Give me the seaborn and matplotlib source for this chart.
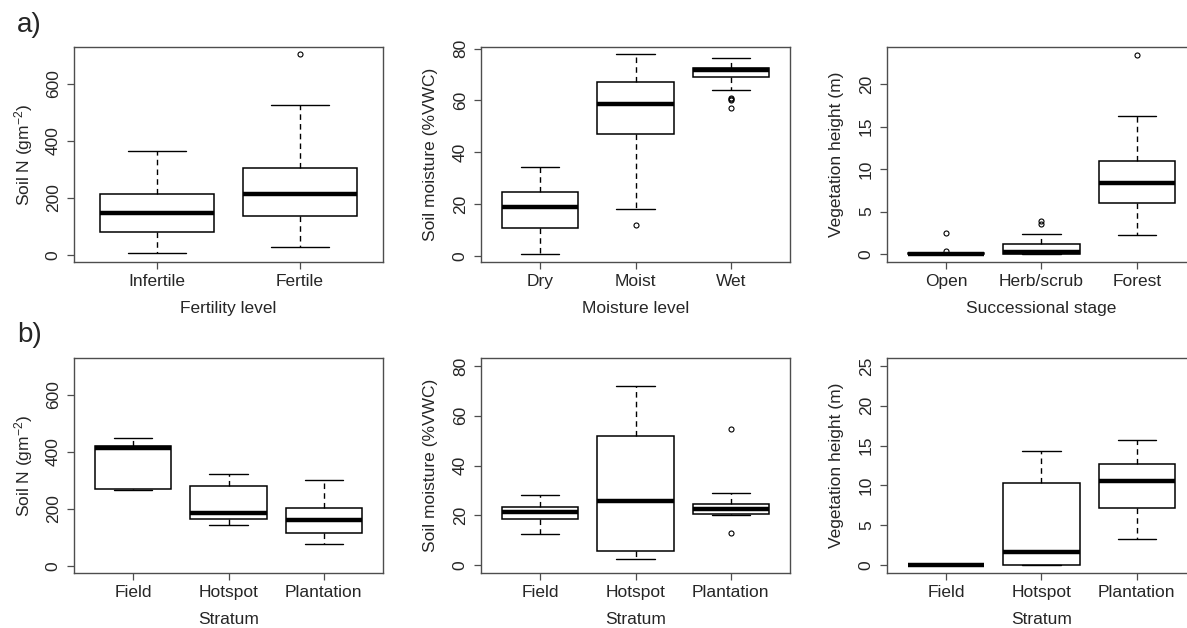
import numpy as np
import pandas as pd
import matplotlib
matplotlib.use("Agg")
import matplotlib.pyplot as plt
import seaborn as sns

# box statistics: [lower whisker, Q1, median, Q3, upper whisker]
fert_levels = ["Infertile", "Fertile"]
soilN_a_stats = [[6, 80, 146, 214, 366], [27, 137, 213, 304, 526]]
soilN_a_out = [[], [705]]

moist_levels = ["Dry", "Moist", "Wet"]
moist_a_stats = [[1.0, 10.9, 18.9, 24.6, 34.5], [18.3, 47.1, 58.6, 67.1, 77.8],
                 [63.9, 68.9, 71.6, 72.4, 76.3]]
moist_a_out = [[], [12.0], [61.0, 60.6, 60.2, 57.2]]

succ_stages = ["Open", "Herb/scrub", "Forest"]
veg_a_stats = [[0, 0, 0, 0.08, 0.1], [0, 0.05, 0.2, 1.22, 2.36], [2.24, 6.0, 8.35, 11.0, 16.3]]
veg_a_out = [[0.4, 2.44], [3.54, 3.94], [23.5]]

strata = ["Field", "Hotspot", "Plantation"]
soilN_b_stats = [[265, 270, 414, 420, 448], [143, 163, 187, 281, 323], [76, 115, 161, 204, 302]]
soilN_b_out = [[], [], []]
moist_b_stats = [[12.4, 18.6, 21.2, 23.4, 28.1], [2.3, 5.8, 25.7, 51.8, 72.1],
                 [20.0, 20.4, 22.6, 24.7, 29.0]]
moist_b_out = [[], [], [54.7, 13.0]]
veg_b_stats = [[0, 0, 0, 0, 0], [0, 0, 1.6, 10.34, 14.37], [3.24, 7.18, 10.55, 12.73, 15.67]]
veg_b_out = [[], [], []]


def expand(stats, outliers):
    # sample set whose quartiles / whiskers reproduce the summary above
    lo, q1, med, q3, hi = stats
    return list(outliers) + [lo] + [q1] * 20 + [med] * 9 + [q3] * 20 + [hi]


def to_frame(cats, stats, outs):
    rows = []
    for c, s, o in zip(cats, stats, outs):
        for v in expand(s, o):
            rows.append((c, v))
    return pd.DataFrame(rows, columns=["group", "value"])


sns.set_theme(style="white")
plt.rcParams["font.family"] = ["Liberation Sans", "DejaVu Sans"]
plt.rcParams["mathtext.fontset"] = "custom"
plt.rcParams["mathtext.rm"] = "Liberation Sans"
plt.rcParams["mathtext.it"] = "Liberation Sans:italic"

txt = "#262626"
frame = "#4d4d4d"
fs = 12.5

W, H = 1187, 628
fig = plt.figure(figsize=(W / 100, H / 100), dpi=100)

lefts = [74, 481, 887]
tops = [47, 358]
aw, ah = 309, 215

panels = [
    (fert_levels, soilN_a_stats, soilN_a_out, r"Soil N (gm$^{-2}$)", "Fertility level", (-25, 730), [0, 200, 400, 600]),
    (moist_levels, moist_a_stats, moist_a_out, "Soil moisture (%VWC)", "Moisture level", (-2.2, 80.6), [0, 20, 40, 60, 80]),
    (succ_stages, veg_a_stats, veg_a_out, "Vegetation height (m)", "Successional stage", (-0.95, 24.4), [0, 5, 10, 15, 20]),
    (strata, soilN_b_stats, soilN_b_out, r"Soil N (gm$^{-2}$)", "Stratum", (-25, 730), [0, 200, 400, 600]),
    (strata, moist_b_stats, moist_b_out, "Soil moisture (%VWC)", "Stratum", (-3.2, 83.2), [0, 20, 40, 60, 80]),
    (strata, veg_b_stats, veg_b_out, "Vegetation height (m)", "Stratum", (-1, 26), [0, 5, 10, 15, 20, 25]),
]

for i, (cats, stats, outs, ylab, xlab, ylim, yticks) in enumerate(panels):
    r, c = divmod(i, 3)
    ax = fig.add_axes([lefts[c] / W, 1 - (tops[r] + ah) / H, aw / W, ah / H])
    df = to_frame(cats, stats, outs)
    sns.boxplot(data=df, x="group", y="value", order=cats, ax=ax,
                color="white", linecolor="black", linewidth=1.1, width=0.8,
                whiskerprops=dict(linestyle=(0, (4, 3)), linewidth=1.0),
                capprops=dict(linewidth=1.0),
                medianprops=dict(linewidth=3.2, color="black"),
                flierprops=dict(marker="o", markersize=3.6, markerfacecolor="none",
                                markeredgecolor="black", markeredgewidth=0.8))
    n = len(cats)
    pad = 0.04 * n
    ax.set_xlim(-0.5 - pad, n - 0.5 + pad)
    ax.set_ylim(*ylim)
    ax.set_yticks(yticks)
    ax.set_yticklabels([str(t) for t in yticks], rotation=90, va="center", ha="right")
    ax.tick_params(axis="both", direction="out", length=5, width=0.9, colors=frame,
                   labelcolor=txt, labelsize=fs, left=True, bottom=True)
    ax.tick_params(axis="y", pad=4.5)
    ax.tick_params(axis="x", pad=3.5)
    for sp in ax.spines.values():
        sp.set_color(frame)
        sp.set_linewidth(1.0)
        sp.set_visible(True)
    ax.set_ylabel(ylab, fontsize=fs, color=txt, va="center")
    ax.yaxis.set_label_coords(-0.163, 0.5)
    ax.set_xlabel(xlab, fontsize=fs, color=txt, va="center")
    ax.xaxis.set_label_coords(0.5, -0.218)

fig.text(17 / W, 1 - 31.7 / H, "a)", fontsize=20, color=txt, va="baseline")
fig.text(17 / W, 1 - 341.7 / H, "b)", fontsize=20, color=txt, va="baseline")

fig.savefig("out.png", dpi=100)
